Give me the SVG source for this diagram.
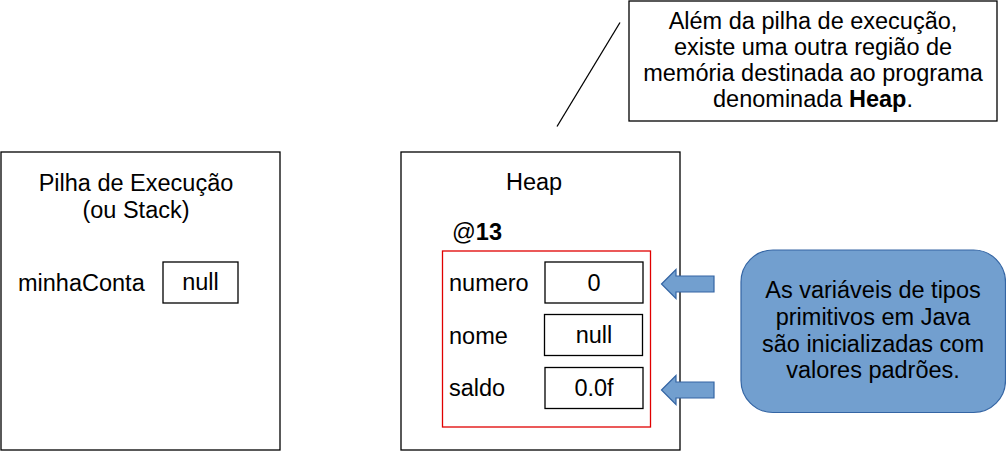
<svg xmlns="http://www.w3.org/2000/svg" width="1006" height="452" viewBox="0 0 1006 452">
  <style>
    text { font-family: "Liberation Sans", Arial, sans-serif; font-size: 23.5px; fill: #000; }
    .mid { text-anchor: middle; }
    .b { font-weight: bold; }
    .frame { fill: #fff; stroke: #000; stroke-width: 1.3; }
    .cell { fill: #fff; stroke: #000; stroke-width: 1.3; }
    .obj { fill: none; stroke: #e00000; stroke-width: 1.3; }
    .blk { fill: #729fcf; stroke: #3465a4; stroke-width: 1.2; }
  </style>
  <rect width="1006" height="452" fill="#fff"/>

  <!-- stack frame -->
  <g id="stack">
    <rect class="frame" x="1" y="152" width="279" height="298"/>
    <text class="mid" x="136" y="191">Pilha de Execução</text>
    <text class="mid" x="136" y="218">(ou Stack)</text>
    <text x="18" y="291">minhaConta</text>
    <rect class="cell" x="163" y="262" width="75" height="41"/>
    <text class="mid" x="200.5" y="290">null</text>
  </g>

  <!-- heap area -->
  <g id="heap">
    <rect class="frame" x="401" y="152" width="279" height="298"/>
    <text class="mid" x="534" y="190">Heap</text>
    <text x="452" y="240">@<tspan class="b">13</tspan></text>
  </g>

  <!-- object @13 and its fields -->
  <g id="object13">
    <rect class="obj" x="442.5" y="251" width="208" height="176"/>
    <text x="449" y="291">numero</text>
    <rect class="cell" x="545" y="262" width="98" height="41"/>
    <text class="mid" x="594" y="291">0</text>
    <text x="449" y="344">nome</text>
    <rect class="cell" x="544.5" y="314.5" width="98" height="41"/>
    <text class="mid" x="594" y="343">null</text>
    <text x="449" y="396">saldo</text>
    <rect class="cell" x="545" y="367.5" width="98" height="41"/>
    <text class="mid" x="594" y="396">0.0f</text>
  </g>

  <!-- callout about the heap -->
  <g id="callout">
    <rect class="frame" x="629" y="1" width="368" height="120"/>
    <text class="mid" x="813" y="29">Além da pilha de execução,</text>
    <text class="mid" x="813" y="55">existe uma outra região de</text>
    <text class="mid" x="813" y="81">memória destinada ao programa</text>
    <text class="mid" x="813" y="107">denominada <tspan class="b">Heap</tspan>.</text>
  </g>

  <!-- note on default values -->
  <g id="note">
    <rect class="blk" x="741" y="250" width="264.5" height="162.5" rx="32" ry="32"/>
    <text class="mid" x="873" y="298">As variáveis de tipos</text>
    <text class="mid" x="873" y="325">primitivos em Java</text>
    <text class="mid" x="873" y="352">são inicializadas com</text>
    <text class="mid" x="873" y="378">valores padrões.</text>
  </g>

  <!-- connectors -->
  <g id="connectors">
    <line x1="557" y1="126.5" x2="620" y2="22.5" stroke="#000" stroke-width="1.3"/>
    <polygon class="blk" points="661.5,284 676,269.5 676,276 714,276 714,292 676,292 676,298.5"/>
    <polygon class="blk" points="661.5,390 676,375.5 676,382 714,382 714,398 676,398 676,404.5"/>
  </g>
</svg>
